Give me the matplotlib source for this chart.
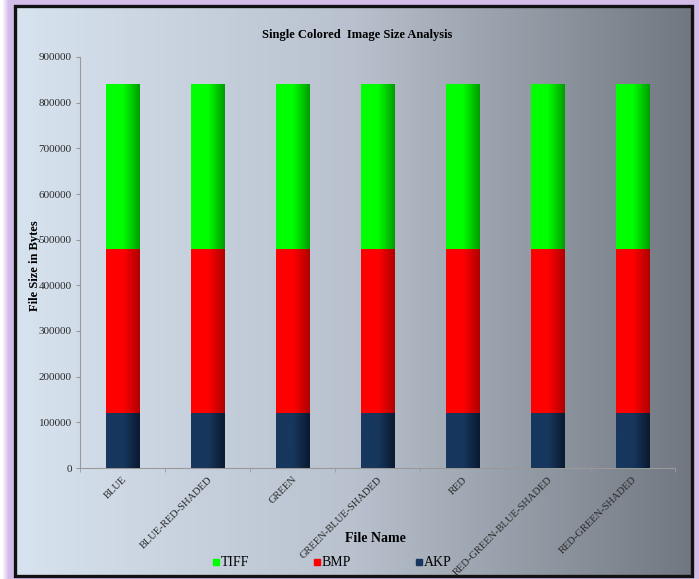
import numpy as np
import matplotlib.pyplot as plt
from matplotlib.colors import LinearSegmentedColormap
from matplotlib.patches import Rectangle
from matplotlib.lines import Line2D

plt.rcParams['font.family'] = ['Liberation Serif', 'DejaVu Serif']

files = ["BLUE", "BLUE-RED-SHADED", "GREEN", "GREEN-BLUE-SHADED", "RED",
         "RED-GREEN-BLUE-SHADED", "RED-GREEN-SHADED"]
akp = [120000, 120000, 120000, 120000, 120000, 120000, 120000]
bmp = [360000, 360000, 360000, 360000, 360000, 360000, 360000]
tiff = [360000, 360000, 360000, 360000, 360000, 360000, 360000]

W, H = 699, 579
fig = plt.figure(figsize=(W / 100, H / 100), dpi=100)

# background: lilac glow outside the frame, grey-blue gradient inside
bg = fig.add_axes([0, 0, 1, 1])
bg.set_axis_off()
img = np.ones((H, W, 3))
xx = np.arange(W)[None, :]
yy = np.arange(H)[:, None]
lilac = np.array([212, 188, 234]) / 255
fade = np.clip(np.minimum(xx - 2, yy + 6) / 6.0, 0, 1)[..., None] * np.ones((H, W, 1))
img[:] = 1 - (1 - lilac) * fade
left_c = np.array([216, 227, 240]) / 255
mid_c = np.array([184, 193, 205]) / 255
right_c = np.array([112, 119, 128]) / 255
t = np.linspace(0, 1, 677)
grad = np.where(t[:, None] < 0.5,
                left_c + (mid_c - left_c) * (t[:, None] / 0.5),
                mid_c + (right_c - mid_c) * ((t[:, None] - 0.5) / 0.5))
img[6:576, 15:692] = grad[None, :, :]
bg.imshow(img, extent=[0, W, 0, H], aspect='auto', origin='upper')
bg.add_patch(Rectangle((15, 3), 677, 570, fill=False, lw=2.4, ec='#111111'))
bg.set_xlim(0, W)
bg.set_ylim(0, H)

ax = fig.add_axes([80 / W, 111 / H, 595 / W, 411 / H])
ax.patch.set_alpha(0)

x = np.arange(len(files))
series = [
    ("AKP", akp, '#17375e', '#0a1a30'),
    ("BMP", bmp, '#ff0000', '#b00000'),
    ("TIFF", tiff, '#00ff00', '#009e00'),
]
bottom = np.zeros(len(files))
handles = {}
for name, vals, c1, c2 in series:
    bars = ax.bar(x, vals, width=0.39, bottom=bottom, color=c1, zorder=2)
    cmap = LinearSegmentedColormap.from_list(name, [c1, c1, c2])
    g = np.linspace(0, 1, 64).reshape(1, -1)
    for p in bars.patches:
        x0, y0 = p.get_x(), p.get_y()
        im = ax.imshow(g, extent=[x0, x0 + p.get_width(), y0, y0 + p.get_height()],
                       aspect='auto', cmap=cmap, zorder=3)
        im.set_clip_path(p)
    handles[name] = Line2D([], [], marker='s', ls='none', markersize=5,
                           markerfacecolor=c1, markeredgecolor=c1, label=name)
    bottom = bottom + np.array(vals)

ax.set_xlim(-0.5, len(files) - 0.5)
ax.set_ylim(0, 900000)
ax.set_yticks(np.arange(0, 900001, 100000))
ax.set_xticks(x)
ax.set_xticklabels(files, rotation=45, ha='right', va='top', rotation_mode='anchor')
ax.set_xticks(np.arange(-0.5, len(files)), minor=True)
ax.tick_params(axis='x', which='major', length=0, pad=5, labelsize=7.6, labelcolor='#2a2a2a')
ax.tick_params(axis='x', which='minor', length=3, color='#999999')
ax.tick_params(axis='y', length=3, color='#999999', labelsize=8, labelcolor='#2a2a2a', pad=3)
for s in ['top', 'right']:
    ax.spines[s].set_visible(False)
for s in ['left', 'bottom']:
    ax.spines[s].set_color('#999999')
    ax.spines[s].set_linewidth(0.8)

fig.text(357 / W, 1 - 35 / H, "Single Colored  Image Size Analysis",
         ha='center', va='center', fontsize=9, fontweight='bold')
fig.text(35 / W, 1 - 266 / H, "File Size in Bytes", rotation=90,
         ha='center', va='center', fontsize=9, fontweight='bold')
fig.text(375 / W, 1 - 538 / H, "File Name", ha='center', va='center',
         fontsize=10, fontweight='bold')

fig.legend(handles=[handles["TIFF"], handles["BMP"], handles["AKP"]],
           loc='center', bbox_to_anchor=(332 / W, 1 - 563 / H), ncol=3,
           frameon=False, fontsize=10, handlelength=0.5, handletextpad=0.1,
           columnspacing=4.6, borderpad=0)

fig.savefig("out.png", dpi=100)
